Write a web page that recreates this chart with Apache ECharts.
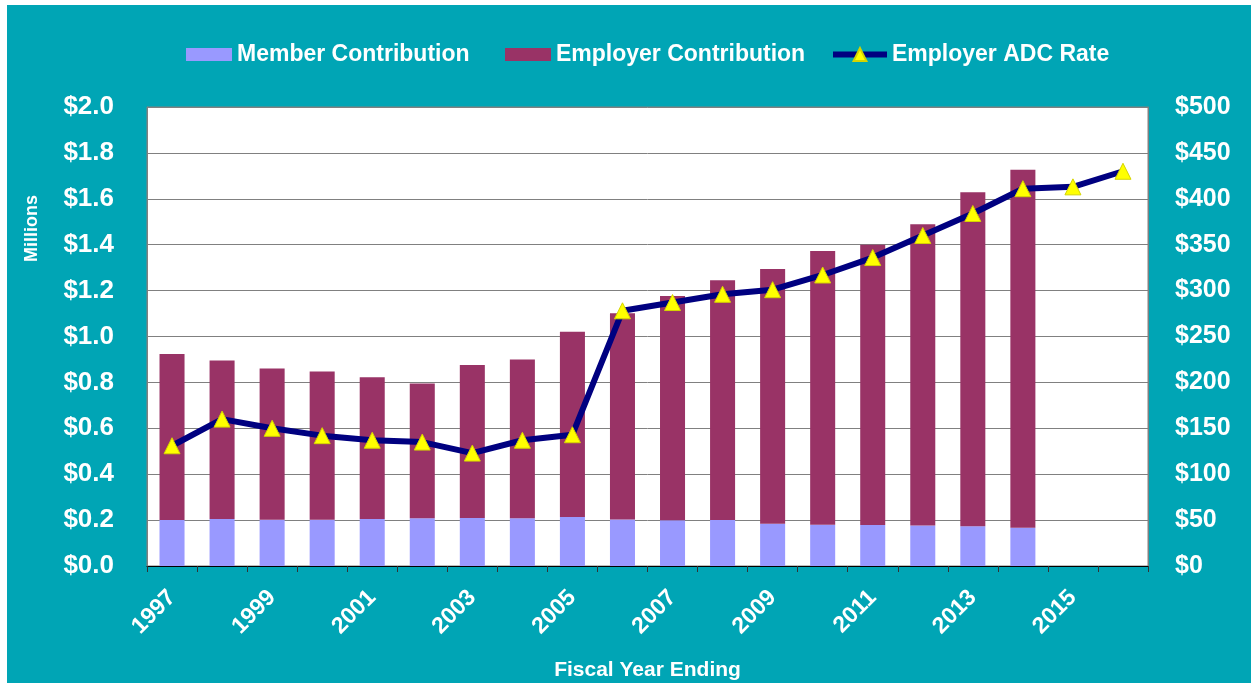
<!DOCTYPE html>
<html>
<head>
<meta charset="utf-8">
<script src="https://cdn.jsdelivr.net/npm/echarts@6/dist/echarts.min.js"></script>
<style>
  html, body { margin: 0; padding: 0; background: #ffffff; }
  #chart { position: absolute; left: 7px; top: 5px; width: 1244px; height: 678px; }
</style>
</head>
<body>
<div id="chart"></div>
<script>
// fiscal years on the x axis
const years = ["1997", "1998", "1999", "2000", "2001", "2002", "2003", "2004", "2005", "2006",
  "2007", "2008", "2009", "2010", "2011", "2012", "2013", "2014", "2015", "2016"];
// member contribution, $ millions
const memberContrib = [0.200, 0.205, 0.202, 0.202, 0.205, 0.208, 0.209, 0.208, 0.213, 0.203,
  0.199, 0.200, 0.184, 0.180, 0.179, 0.176, 0.173, 0.167];
// employer contribution, $ millions (stacked on member)
const employerContrib = [0.724, 0.690, 0.659, 0.645, 0.617, 0.587, 0.667, 0.692, 0.808, 0.898,
  0.977, 1.045, 1.110, 1.193, 1.221, 1.313, 1.455, 1.560];
// employer ADC rate, right axis ($)
const adcRate = [131, 160, 150, 142, 137, 135, 123, 137, 143, 278,
  287, 296, 301, 317, 336, 360, 384, 411, 413, 430];

const font = "Arial, 'Liberation Sans', sans-serif";
const chart = echarts.init(document.getElementById("chart"));

const legendText = { color: "#fff", fontSize: 23, fontWeight: "bold", fontFamily: font };

const option = {
  backgroundColor: "#00A5B5",
  animation: false,
  textStyle: { fontFamily: font },
  grid: {
    left: 140,
    right: 103,
    top: 102,
    bottom: 117,
    outerBoundsMode: "none",
    containLabel: false,
    show: true,
    backgroundColor: "#ffffff",
    borderColor: "#808080",
    borderWidth: 1,
  },
  legend: [
    {
      left: 174,
      top: 33,
      itemWidth: 46,
      itemHeight: 13,
      textStyle: legendText,
      data: [{ name: "Member Contribution", icon: "rect" }],
    },
    {
      left: 493,
      top: 33,
      itemWidth: 46,
      itemHeight: 13,
      textStyle: legendText,
      data: [{ name: "Employer Contribution", icon: "rect" }],
    },
    {
      left: 818,
      top: 33,
      itemWidth: 54,
      itemHeight: 16,
      textStyle: legendText,
      data: [{ name: "Employer ADC Rate", lineStyle: { width: 6, color: "#000080" } }],
    },
  ],
  graphic: [
    {
      type: "text",
      left: 16,
      top: 190,
      rotation: Math.PI / 2,
      style: {
        text: "Millions",
        fill: "#fff",
        font: "bold 18px " + font,
      },
    },
  ],
  xAxis: {
    type: "category",
    data: years,
    name: "Fiscal Year Ending",
    nameLocation: "middle",
    nameGap: 94,
    nameTextStyle: { color: "#fff", fontSize: 21, fontWeight: "bold" },
    axisLine: { show: true, lineStyle: { color: "#000", width: 1 } },
    axisTick: { show: true, interval: 0, length: 6, lineStyle: { color: "#333" } },
    axisLabel: {
      interval: 1,
      rotate: 45,
      margin: 28,
      color: "#fff",
      fontSize: 23,
      fontWeight: "bold",
    },
    splitLine: { show: false },
  },
  yAxis: [
    {
      type: "value",
      min: 0,
      max: 2,
      interval: 0.2,
      axisLine: { show: true, lineStyle: { color: "#808080" } },
      axisTick: { show: false },
      axisLabel: {
        color: "#fff",
        fontSize: 26,
        fontWeight: "bold",
        margin: 33,
        formatter: (v) => "$" + v.toFixed(1),
      },
      splitLine: { show: true, lineStyle: { color: "#808080", width: 1 } },
    },
    {
      type: "value",
      min: 0,
      max: 500,
      interval: 50,
      axisLine: { show: true, lineStyle: { color: "#808080" } },
      axisTick: { show: false },
      axisLabel: {
        color: "#fff",
        fontSize: 25,
        fontWeight: "bold",
        margin: 27,
        formatter: (v) => "$" + v,
      },
      splitLine: { show: false },
    },
  ],
  series: [
    {
      name: "Member Contribution",
      type: "bar",
      stack: "contrib",
      barWidth: "50%",
      itemStyle: { color: "#9999FF" },
      data: memberContrib,
    },
    {
      name: "Employer Contribution",
      type: "bar",
      stack: "contrib",
      barWidth: "50%",
      itemStyle: { color: "#993366" },
      data: employerContrib,
    },
    {
      name: "Employer ADC Rate",
      type: "line",
      yAxisIndex: 1,
      symbol: "triangle",
      symbolSize: 16,
      lineStyle: { color: "#000080", width: 6 },
      itemStyle: { color: "#FFFF00", borderColor: "#D4D400", borderWidth: 1 },
      data: adcRate,
      z: 5,
    },
  ],
};

chart.setOption(option);
</script>
</body>
</html>
